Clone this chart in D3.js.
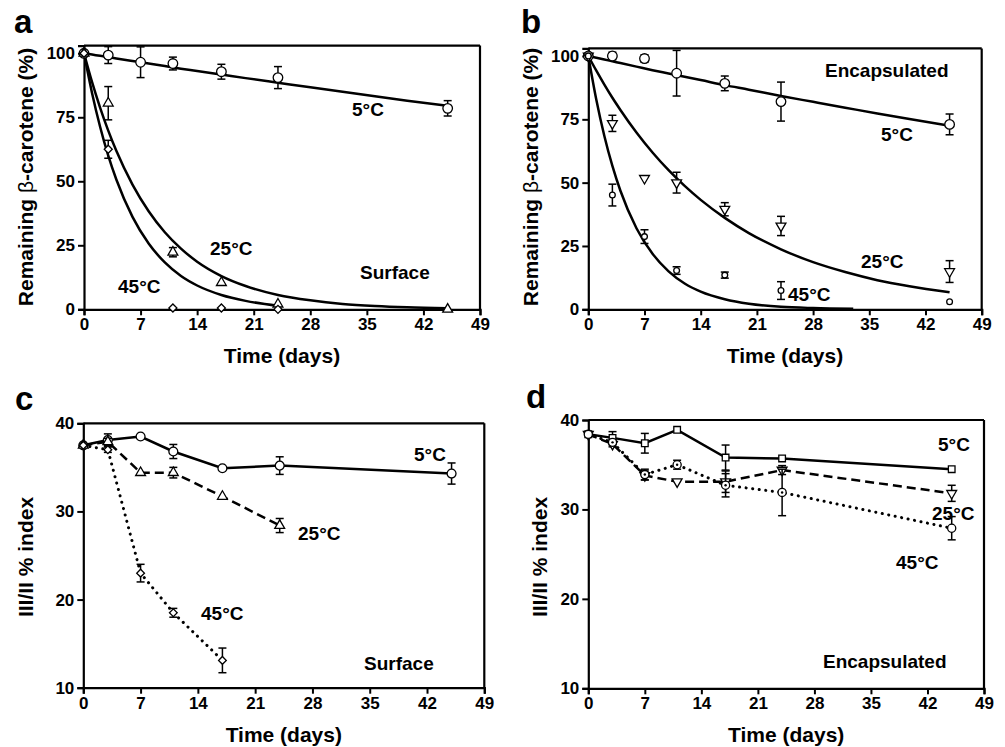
<!DOCTYPE html>
<html><head><meta charset="utf-8">
<script src="https://cdn.jsdelivr.net/npm/d3@7"></script>
<style>
body{margin:0;background:#fff;}
svg{display:block;font-family:"Liberation Sans",Arial,sans-serif;}
</style></head><body>
<svg id="c" width="1005" height="747"></svg>
<script>
// ---------- data ----------
const xTicks = [0,7,14,21,28,35,42,49];
const yTicksAB = [0,25,50,75,100];
const yTicksCD = [10,20,30,40];

// panel a: surface, remaining beta-carotene
const a5Days = [0,3,7,11,17,24,45];
const a5 = [100,99.3,96.5,96,92.8,90.5,78.5];
const a5Err = [0,3.3,6,2.5,2.9,4.3,3];
const a25Days = [0,3,11,17,24,45];
const a25 = [100,80.5,22.3,10.4,2,0];
const a25Err = [0,6.5,1.8,0,0,0];
const a45Days = [0,3,11,17,24];
const a45 = [100,62.5,0.5,0.5,0];
const a45Err = [0,3.5,0,0,0];

const fitDays = [0,1,2,3,4,6,8,10,12,14,17,20,24,28,32,36,40,45];
const a5Fit  = [100,99.5,99,98.5,98,97,96,95,94,93.1,91.7,90.3,88.5,86.7,85,83.2,81.5,79.5];
const a25Fit = [100,88.7,78.7,69.8,61.9,48.7,38.3,30.1,23.7,18.6,13.0,9.1,5.6,3.5,2.1,1.3,0.8,0.45];
const a45FitDays = [0,1,2,3,4,6,8,10,12,14,17,20,24];
const a45Fit = [100,84.4,71.2,60,50.7,36.1,25.7,18.3,13,9.3,5.6,3.3,1.4];

// panel b: encapsulated, remaining beta-carotene
const bDays = [0,3,7,11,17,24,45];
const b5 = [100,100,99,93.2,89.2,82,73];
const b5Err = [0,1.5,1.5,9,2.9,7.7,4.1];
const b25 = [100,73.4,51.7,50,39.5,32.9,14.9];
const b25Err = [0,3.2,0,4.1,2.6,3.8,4.3];
const b45 = [100,45.1,28.7,15.3,13.5,7.4,3];
const b45Err = [0,4.3,2.7,1.5,1.2,3.5,0];
const b5Fit  = [100,99.3,98.6,97.9,97.2,95.8,94.4,93.1,91.8,90.5,88.5,86.7,84.2,81.9,79.6,77.3,75.1,72.5];
const b25Fit = [100,94.2,88.7,83.5,78.7,69.8,61.9,54.9,48.7,43.2,36.1,30.1,23.7,18.6,14.7,11.5,9.1,6.7];
const b45FitDays = [0,1,2,3,4,6,8,10,12,14,17,20,24,28,33];
const b45Fit = [100,82.7,68.4,56.6,46.8,32,21.9,15,10.2,7,4,2.2,1,0.5,0.2];

// panel c: surface, III/II index
const c5Days = [0,3,7,11,17,24,45];
const c5 = [37.5,38.1,38.5,36.8,34.9,35.2,34.3];
const c5Err = [0,0.7,0,0.8,0,1,1.2];
const c25Days = [0,3,7,11,17,24];
const c25 = [37.5,37.9,34.4,34.4,31.7,28.4];
const c25Err = [0,0.4,0,0.6,0,0.8];
const c45Days = [0,3,7,11,17];
const c45 = [37.5,37,23,18.5,13.1];
const c45Err = [0,0.3,1,0.5,1.4];

// panel d: encapsulated, III/II index
const dDays = [0,3,7,11,17,24,45];
const d5 = [38.4,38,37.4,38.9,35.8,35.7,34.5];
const d5Err = [0,0.7,1.1,0,1.4,0,0];
const d25 = [38.4,37.3,33.8,33.1,33.1,34.4,31.8];
const d25Err = [0,0.3,0.5,0,1.2,0.5,0.9];
const d45 = [38.4,37.5,33.9,35,32.7,31.9,27.9];
const d45Err = [0,0.3,0.6,0.5,1.3,2.6,1.3];

// ---------- drawing ----------
const svg = d3.select("#c");
const zip = (xs, ys, es) => xs.map((x,i)=>({x, y: ys[i], e: es ? es[i] : 0}));

function panel(cfg){
  const g = svg.append("g");
  const x = d3.scaleLinear().domain([0,49]).range([cfg.x0, cfg.x1]);
  const y = d3.scaleLinear().domain(cfg.yDom).range([cfg.yb, cfg.yt]);
  // frame top/right
  g.append("line").attr("x1",cfg.x0).attr("x2",cfg.x1).attr("y1",cfg.yt).attr("y2",cfg.yt)
    .attr("stroke","#000").attr("stroke-width",2.2);
  g.append("line").attr("x1",cfg.x1).attr("x2",cfg.x1).attr("y1",cfg.yt).attr("y2",cfg.yb)
    .attr("stroke","#000").attr("stroke-width",2.2);
  const xa = g.append("g").attr("transform",`translate(0,${cfg.yb})`)
    .call(d3.axisBottom(x).tickValues(xTicks).tickSizeOuter(0).tickSize(6).tickPadding(3));
  const ya = g.append("g").attr("transform",`translate(${cfg.x0},0)`)
    .call(d3.axisLeft(y).tickValues(cfg.yTicks).tickSizeOuter(0).tickSize(6).tickPadding(3));
  [xa,ya].forEach(a=>{
    a.select(".domain").attr("stroke-width",2.2);
    a.selectAll(".tick line").attr("stroke-width",2);
    a.selectAll("text").attr("font-size",17).attr("font-weight","bold").attr("fill","#000")
      .attr("font-family","Liberation Sans, Arial, sans-serif");
  });
  // axis titles
  g.append("text").attr("x",(cfg.x0+cfg.x1)/2).attr("y",cfg.xtY).attr("text-anchor","middle")
    .attr("font-size",21).attr("font-weight","bold").text("Time (days)");
  const yt = g.append("text").attr("transform",`translate(${cfg.ytX},${cfg.ytC}) rotate(-90)`)
    .attr("text-anchor","middle").attr("font-size",21).attr("font-weight","bold");
  if(cfg.yTitleBeta){
    yt.append("tspan").text("Remaining ");
    yt.append("tspan").attr("font-weight","normal").text("β");
    yt.append("tspan").text("-carotene (%)");
  } else yt.text(cfg.yTitle);
  // panel letter
  g.append("text").attr("x",cfg.lx).attr("y",cfg.ly).attr("font-size",33).attr("font-weight","bold").text(cfg.letter);

  // fits
  (cfg.fits||[]).forEach(f=>{
    g.append("path").datum(zip(f.days,f.vals))
      .attr("d", d3.line().x(d=>x(d.x)).y(d=>y(d.y)).curve(d3.curveMonotoneX))
      .attr("fill","none").attr("stroke","#000").attr("stroke-width",2.5);
  });
  // series
  cfg.series.forEach(s=>{
    const pts = zip(s.days,s.vals,s.err);
    if(s.line){
      const p = g.append("path").datum(pts)
        .attr("d", d3.line().x(d=>x(d.x)).y(d=>y(d.y)))
        .attr("fill","none").attr("stroke","#000").attr("stroke-width",2.5);
      if(s.line==="dash") p.attr("stroke-dasharray","9,5");
      if(s.line==="dot") p.attr("stroke-dasharray","0.1,6.5").attr("stroke-linecap","round").attr("stroke-width",3);
    }
    const eb = g.append("g").attr("stroke","#000").attr("stroke-width",1.5);
    pts.filter(d=>d.e>0).forEach(d=>{
      const top = Math.min(cfg.yDom[1], d.y+d.e), bot = Math.max(cfg.yDom[0], d.y-d.e);
      eb.append("line").attr("x1",x(d.x)).attr("x2",x(d.x)).attr("y1",y(top)).attr("y2",y(bot));
      eb.append("line").attr("x1",x(d.x)-4).attr("x2",x(d.x)+4).attr("y1",y(top)).attr("y2",y(top));
      eb.append("line").attr("x1",x(d.x)-4).attr("x2",x(d.x)+4).attr("y1",y(bot)).attr("y2",y(bot));
    });
    const sym = {circle:d3.symbolCircle, tri:d3.symbolTriangle, itri:d3.symbolTriangle,
                 diamond:d3.symbolSquare, square:d3.symbolSquare, dotc:d3.symbolCircle}[s.mark];
    const rot = s.mark==="itri"?180:(s.mark==="diamond"?45:0);
    const mk = g.append("g");
    pts.forEach(d=>{
      mk.append("path").attr("d", d3.symbol().type(sym).size(s.size)())
        .attr("transform",`translate(${x(d.x)},${y(d.y)}) rotate(${rot})`)
        .attr("fill","#fff").attr("stroke","#000").attr("stroke-width",1.3);
      if(s.mark==="dotc" && d.x>0 && d.x<45) mk.append("circle").attr("cx",x(d.x)).attr("cy",y(d.y)).attr("r",1.2).attr("fill","#000");
    });
  });
  // annotations
  cfg.labels.forEach(l=>{
    g.append("text").attr("x",l[1]).attr("y",l[2]).attr("font-size",19).attr("font-weight","bold").text(l[0]);
  });
}

panel({letter:"a", lx:14, ly:33, x0:84, x1:480, yt:45.6, yb:309.3, yDom:[0,103], yTicks:yTicksAB,
  xtY:363, ytX:33, ytC:177, yTitleBeta:true,
  fits:[{days:fitDays, vals:a5Fit},{days:fitDays, vals:a25Fit},{days:a45FitDays, vals:a45Fit}],
  series:[
    {days:a5Days, vals:a5, err:a5Err, mark:"circle", size:72},
    {days:a25Days, vals:a25, err:a25Err, mark:"tri", size:42},
    {days:a45Days, vals:a45, err:a45Err, mark:"diamond", size:32}],
  labels:[["5°C",352,116],["25°C",210,255],["45°C",118,293],["Surface",360,279]]});

panel({letter:"b", lx:521, ly:33, x0:588.3, x1:981.7, yt:48.4, yb:309.3, yDom:[0,103], yTicks:yTicksAB,
  xtY:363, ytX:538, ytC:177, yTitleBeta:true,
  fits:[{days:fitDays, vals:b5Fit},{days:fitDays, vals:b25Fit},{days:b45FitDays, vals:b45Fit}],
  series:[
    {days:bDays, vals:b5, err:b5Err, mark:"circle", size:72},
    {days:bDays, vals:b25, err:b25Err, mark:"itri", size:42},
    {days:bDays, vals:b45, err:b45Err, mark:"circle", size:26}],
  labels:[["5°C",881,141],["25°C",861,268],["45°C",788,301],["Encapsulated",825,77]]});

panel({letter:"c", lx:15, ly:410, x0:83.3, x1:484.3, yt:423.3, yb:687.7, yDom:[10,40], yTicks:yTicksCD,
  xtY:742, ytX:33, ytC:557, yTitle:"III/II % index",
  series:[
    {days:c5Days, vals:c5, err:c5Err, mark:"circle", size:62, line:"solid"},
    {days:c25Days, vals:c25, err:c25Err, mark:"tri", size:42, line:"dash"},
    {days:c45Days, vals:c45, err:c45Err, mark:"diamond", size:30, line:"dot"}],
  labels:[["5°C",414,461],["25°C",298,540],["45°C",201,620],["Surface",364,670]]});

panel({letter:"d", lx:526, ly:408, x0:588.3, x1:984, yt:420, yb:688.3, yDom:[10,40], yTicks:yTicksCD,
  xtY:742, ytX:547, ytC:557, yTitle:"III/II % index",
  series:[
    {days:dDays, vals:d5, err:d5Err, mark:"square", size:44, line:"solid"},
    {days:dDays, vals:d25, err:d25Err, mark:"itri", size:42, line:"dash"},
    {days:dDays, vals:d45, err:d45Err, mark:"dotc", size:52, line:"dot"}],
  labels:[["5°C",938,451],["25°C",932,520],["45°C",896,569],["Encapsulated",823,668]]});
</script>
</body></html>
